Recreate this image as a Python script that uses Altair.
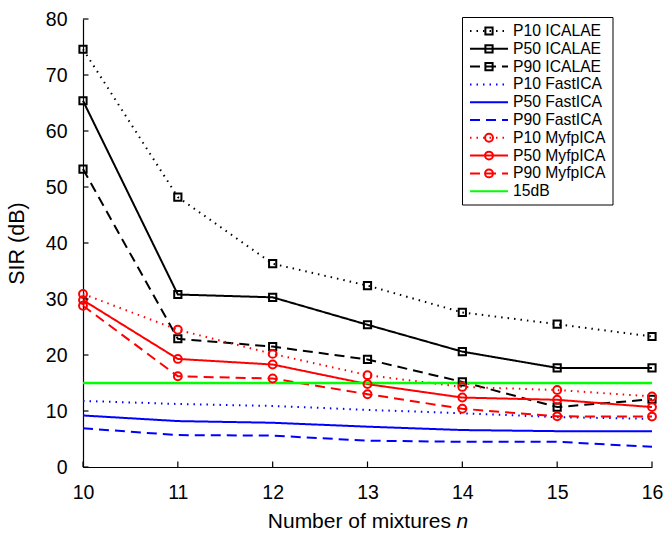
import altair as alt
import pandas as pd

# ---------------- data ----------------
n_mixtures = [10, 11, 12, 13, 14, 15, 16]

p10_icalae = [74.6, 48.2, 36.3, 32.4, 27.6, 25.5, 23.3]
p50_icalae = [65.4, 30.8, 30.3, 25.4, 20.6, 17.7, 17.7]
p90_icalae = [53.2, 22.9, 21.5, 19.2, 15.2, 10.7, 12.1]
p10_fastica = [11.8, 11.25, 10.9, 10.2, 9.6, 8.9, 8.6]
p50_fastica = [9.2, 8.2, 7.9, 7.2, 6.6, 6.4, 6.4]
p90_fastica = [6.9, 5.7, 5.6, 4.7, 4.5, 4.5, 3.6]
p10_myfp = [30.9, 24.5, 20.2, 16.4, 14.3, 13.75, 12.6]
p50_myfp = [29.8, 19.3, 18.3, 14.8, 12.4, 12.0, 10.7]
p90_myfp = [28.8, 16.2, 15.8, 13.0, 10.4, 9.05, 9.0]
threshold_db = 15

series_names = ["P10 ICALAE", "P50 ICALAE", "P90 ICALAE",
                "P10 FastICA", "P50 FastICA", "P90 FastICA",
                "P10 MyfpICA", "P50 MyfpICA", "P90 MyfpICA", "15dB"]
series_methods = ["ICALAE"] * 3 + ["FastICA"] * 3 + ["MyfpICA"] * 3 + ["ref"]
series_values = [p10_icalae, p50_icalae, p90_icalae,
                 p10_fastica, p50_fastica, p90_fastica,
                 p10_myfp, p50_myfp, p90_myfp]

y_tick_values = [0, 10, 20, 30, 40, 50, 60, 70, 80]

# ---------------- style ----------------
colors = ["#000000"] * 3 + ["#0000ff"] * 3 + ["#ff0000"] * 3 + ["#00ff00"]
dot, solid, dash = [1.5, 5], [1, 0], [10, 6]
dashes = [dot, solid, dash] * 3 + [solid]
FONT = "Liberation Sans"

rows = []
for name, method, vals in zip(series_names, series_methods, series_values):
    for n, v in zip(n_mixtures, vals):
        rows.append({"n": n, "sir": v, "series": name, "method": method})
df = pd.DataFrame(rows)

legend_df = pd.DataFrame({"series": series_names,
                          "method": series_methods,
                          "idx": list(range(len(series_names)))})

color_scale = alt.Scale(domain=series_names, range=colors)
dash_scale = alt.Scale(domain=series_names, range=dashes)

x_scale = alt.Scale(domain=[10, 16], nice=False, zero=False)
y_scale = alt.Scale(domain=[0, 80], nice=False)

x_axis = alt.Axis(values=n_mixtures, title=None, ticks=False, tickSize=0,
                  labelFont=FONT, labelFontSize=19.5, labelColor="black",
                  labelPadding=16, labelFlush=False, labelOverlap=False,
                  domainColor="black", domainWidth=1.2,
                  grid=False, format="d")
y_axis = alt.Axis(values=y_tick_values, title="SIR (dB)", ticks=False, tickSize=0,
                  labelFont=FONT, labelFontSize=19.5, labelColor="black",
                  labelPadding=16, labelFlush=False, labelOverlap=False,
                  domainColor="black", domainWidth=1.2,
                  grid=False, titleFont=FONT, titleFontSize=21.5,
                  titleFontWeight="normal", titleColor="black",
                  titleX=-66, titleY=224, titleAngle=270,
                  titleBaseline="middle", titleAlign="center")

base = alt.Chart(df)

lines = base.mark_line(strokeWidth=2, strokeCap="butt").encode(
    x=alt.X("n:Q", scale=x_scale, axis=x_axis),
    y=alt.Y("sir:Q", scale=y_scale, axis=y_axis),
    color=alt.Color("series:N", scale=color_scale, legend=None),
    strokeDash=alt.StrokeDash("series:N", scale=dash_scale, legend=None),
    detail="series:N",
)

squares = base.transform_filter(alt.datum.method == "ICALAE").mark_point(
    shape="square", size=52, strokeWidth=2, filled=False, opacity=1
).encode(
    x=alt.X("n:Q", scale=x_scale),
    y=alt.Y("sir:Q", scale=y_scale),
    color=alt.Color("series:N", scale=color_scale, legend=None),
)

circles = base.transform_filter(alt.datum.method == "MyfpICA").mark_point(
    shape="circle", size=62, strokeWidth=2, filled=False, opacity=1
).encode(
    x=alt.X("n:Q", scale=x_scale),
    y=alt.Y("sir:Q", scale=y_scale),
    color=alt.Color("series:N", scale=color_scale, legend=None),
)

thr_df = pd.DataFrame({"n0": [n_mixtures[0]], "n1": [n_mixtures[-1]],
                       "v": [threshold_db], "series": ["15dB"]})
threshold = alt.Chart(thr_df).mark_rule(strokeWidth=2.5).encode(
    x=alt.X("n0:Q", scale=x_scale),
    x2="n1:Q",
    y=alt.Y("v:Q", scale=y_scale),
    color=alt.Color("series:N", scale=color_scale, legend=None),
)

# inward ticks
xticks = alt.Chart(pd.DataFrame({"n": n_mixtures})).mark_rule(
    color="black", strokeWidth=1.2
).encode(x=alt.X("n:Q", scale=x_scale), y=alt.value(448), y2=alt.value(442.5))
yticks = alt.Chart(pd.DataFrame({"v": y_tick_values})).mark_rule(
    color="black", strokeWidth=1.2
).encode(y=alt.Y("v:Q", scale=y_scale), x=alt.value(0), x2=alt.value(5.5))

# x title with italic n
xtitle_a = alt.Chart(pd.DataFrame({"t": ["Number of mixtures"]})).mark_text(
    font=FONT, fontSize=21, align="right", baseline="alphabetic", color="black"
).encode(text="t:N", x=alt.value(368), y=alt.value(509))
xtitle_b = alt.Chart(pd.DataFrame({"t": ["n"]})).mark_text(
    font=FONT, fontSize=21, fontStyle="italic", align="left",
    baseline="alphabetic", color="black"
).encode(text="t:N", x=alt.value(373.5), y=alt.value(509))

# manual legend
leg_base = alt.Chart(legend_df).transform_calculate(ly="12 + datum.idx * 17.8")
leg_box = alt.Chart(pd.DataFrame({"a": [0]})).mark_rect(
    fill="white", stroke="black", strokeWidth=1
).encode(x=alt.value(379.5), x2=alt.value(530), y=alt.value(-1.5), y2=alt.value(186))
leg_lines = leg_base.mark_rule(strokeWidth=2, strokeCap="butt").encode(
    x=alt.value(387), x2=alt.value(425),
    y=alt.Y("ly:Q", scale=None),
    color=alt.Color("series:N", scale=color_scale, legend=None),
    strokeDash=alt.StrokeDash("series:N", scale=dash_scale, legend=None),
)
leg_sq = leg_base.transform_filter(alt.datum.method == "ICALAE").mark_point(
    shape="square", size=52, strokeWidth=2, filled=False, opacity=1
).encode(x=alt.value(406), y=alt.Y("ly:Q", scale=None),
         color=alt.Color("series:N", scale=color_scale, legend=None))
leg_ci = leg_base.transform_filter(alt.datum.method == "MyfpICA").mark_point(
    shape="circle", size=62, strokeWidth=2, filled=False, opacity=1
).encode(x=alt.value(406), y=alt.Y("ly:Q", scale=None),
         color=alt.Color("series:N", scale=color_scale, legend=None))
leg_text = leg_base.mark_text(
    font=FONT, fontSize=15.7, align="left", baseline="middle", color="black"
).encode(x=alt.value(430), y=alt.Y("ly:Q", scale=None), text="series:N")

chart = alt.layer(
    lines, threshold, squares, circles, xticks, yticks,
    xtitle_a, xtitle_b,
    leg_box, leg_lines, leg_sq, leg_ci, leg_text,
).properties(
    width=569, height=448,
    autosize=alt.AutoSizeParams(type="none"),
    padding={"left": 83, "top": 19, "right": 12, "bottom": 67},
).configure_view(stroke=None).configure_axis(grid=False)

chart.save("out.html", embed_options={"renderer": "svg", "actions": False})
